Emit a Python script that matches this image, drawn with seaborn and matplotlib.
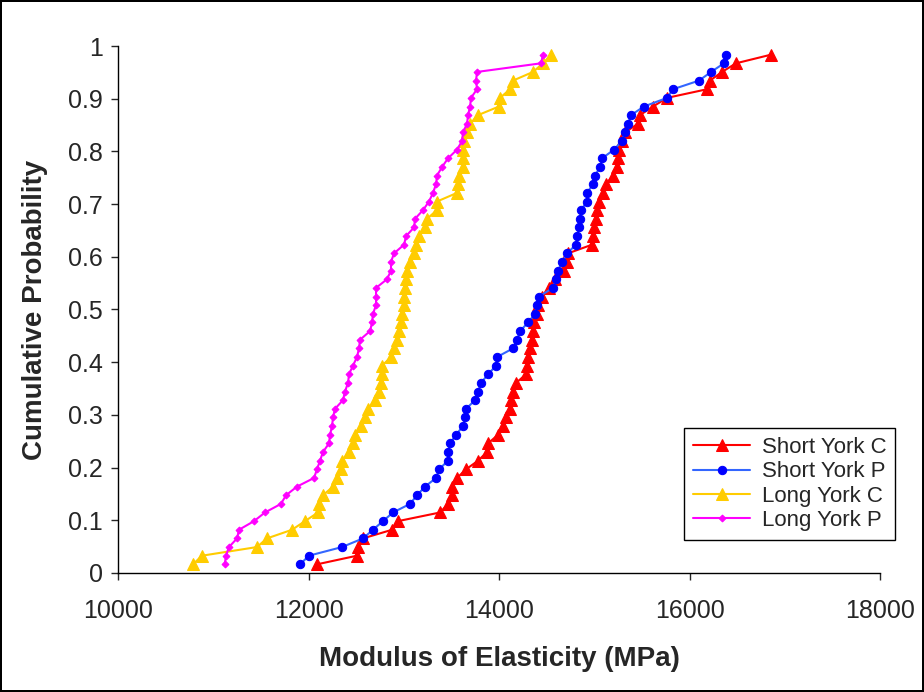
import matplotlib
matplotlib.use("Agg")
import matplotlib.pyplot as plt
import seaborn as sns
import pandas as pd

# cumulative probability (plotting positions)
cum_prob = [0.0164, 0.0328, 0.0492, 0.0656, 0.0820, 0.0984, 0.1148, 0.1311, 0.1475, 0.1639,
            0.1803, 0.1967, 0.2131, 0.2295, 0.2459, 0.2623, 0.2787, 0.2951, 0.3115, 0.3279,
            0.3443, 0.3607, 0.3770, 0.3934, 0.4098, 0.4262, 0.4426, 0.4590, 0.4754, 0.4918,
            0.5082, 0.5246, 0.5410, 0.5574, 0.5738, 0.5902, 0.6066, 0.6230, 0.6393, 0.6557,
            0.6721, 0.6885, 0.7049, 0.7213, 0.7377, 0.7541, 0.7705, 0.7869, 0.8033, 0.8197,
            0.8361, 0.8525, 0.8689, 0.8852, 0.9016, 0.9180, 0.9344, 0.9508, 0.9672, 0.9836]

short_york_c = [12089, 12509, 12520, 12572, 12877, 12940, 13381, 13465, 13507, 13507,
                13559, 13654, 13780, 13874, 13885, 13990, 14042, 14074, 14116, 14126,
                14147, 14179, 14284, 14294, 14305, 14326, 14347, 14357, 14368, 14399,
                14410, 14452, 14525, 14588, 14683, 14714, 14725, 14977, 14987, 14998,
                15019, 15029, 15050, 15092, 15124, 15197, 15239, 15250, 15260, 15291,
                15323, 15459, 15480, 15617, 15764, 16184, 16215, 16341, 16488, 16856]

short_york_p = [11911, 12005, 12352, 12572, 12677, 12782, 12887, 13066, 13139, 13223,
                13339, 13370, 13465, 13465, 13486, 13549, 13622, 13643, 13654, 13748,
                13780, 13811, 13885, 13969, 13979, 14147, 14189, 14221, 14305, 14378,
                14399, 14420, 14567, 14599, 14620, 14662, 14714, 14809, 14819, 14840,
                14851, 14861, 14924, 14924, 14987, 15008, 15061, 15082, 15207, 15291,
                15323, 15354, 15386, 15522, 15764, 15827, 16100, 16226, 16362, 16383]

long_york_c = [10787, 10882, 11459, 11564, 11827, 11963, 12100, 12110, 12152, 12257,
               12299, 12341, 12352, 12425, 12467, 12488, 12551, 12593, 12625, 12698,
               12740, 12761, 12772, 12772, 12866, 12898, 12929, 12950, 12971, 12982,
               13003, 13003, 13013, 13024, 13034, 13066, 13108, 13129, 13160, 13223,
               13244, 13349, 13349, 13559, 13570, 13580, 13622, 13622, 13622, 13633,
               13664, 13696, 13780, 14000, 14011, 14116, 14147, 14357, 14462, 14546]

long_york_p = [11120, 11134, 11165, 11250, 11270, 11428, 11543, 11711, 11764, 11879,
               12058, 12089, 12121, 12152, 12215, 12226, 12247, 12257, 12278, 12362,
               12383, 12415, 12425, 12467, 12509, 12530, 12541, 12646, 12667, 12677,
               12709, 12709, 12709, 12824, 12866, 12866, 12898, 13003, 13024, 13108,
               13118, 13202, 13265, 13307, 13339, 13349, 13402, 13465, 13559, 13612,
               13622, 13664, 13675, 13696, 13706, 13769, 13759, 13769, 14441, 14462]

series_names = ["Short York C", "Short York P", "Long York C", "Long York P"]
x_ticks = [10000, 12000, 14000, 16000, 18000]
y_ticks = [0, 0.1, 0.2, 0.3, 0.4, 0.5, 0.6, 0.7, 0.8, 0.9, 1]
y_tick_labels = ["0", "0.1", "0.2", "0.3", "0.4", "0.5", "0.6", "0.7", "0.8", "0.9", "1"]

sns.set_style("white")
plt.rcParams["font.family"] = ["Liberation Sans", "DejaVu Sans"]

fig = plt.figure(figsize=(9.24, 6.92), dpi=100)
fig.patch.set_edgecolor("black")
fig.patch.set_linewidth(1.5)
ax = fig.add_axes([0.1277, 0.172, 0.8247, 0.7615])

styles = [
    dict(color="#FF0000", marker="^", markersize=8, mfc="#FF0000", mec="#FF0000"),
    dict(color="#3366FF", marker="o", markersize=6, mfc="#0000FF", mec="#0000FF"),
    dict(color="#FFCC00", marker="^", markersize=8, mfc="#FFCC00", mec="#FFCC00"),
    dict(color="#FF00FF", marker="D", markersize=3.5, mfc="#FF00FF", mec="#FF00FF"),
]
all_x = [short_york_c, short_york_p, long_york_c, long_york_p]

for name, xs, st in zip(series_names, all_x, styles):
    df = pd.DataFrame({"moe": xs, "prob": cum_prob})
    sns.lineplot(data=df, x="moe", y="prob", ax=ax, sort=False, estimator=None,
                 label=name, linewidth=1.5, clip_on=False, **st)

ax.set_xlim(10000, 18000)
ax.set_ylim(0, 1)
ax.set_xticks(x_ticks)
ax.set_xticklabels([str(v) for v in x_ticks])
ax.set_yticks(y_ticks)
ax.set_yticklabels(y_tick_labels)
ax.tick_params(axis="x", direction="out", length=5, width=1, labelsize=18, pad=14)
ax.tick_params(axis="y", direction="out", length=5, width=1, labelsize=18, pad=6)
ax.tick_params(bottom=True, left=True)
sns.despine(ax=ax)
for s in ["left", "bottom"]:
    ax.spines[s].set_color("black")
    ax.spines[s].set_linewidth(1)

ax.set_xlabel("Modulus of Elasticity (MPa)", fontsize=20, fontweight="bold", labelpad=16)
ax.set_ylabel("Cumulative Probability", fontsize=20, fontweight="bold", labelpad=14)

leg = ax.legend(loc="lower right", bbox_to_anchor=(1.0197, 0.0626), borderaxespad=0,
                fontsize=16, frameon=True, fancybox=False, framealpha=1, borderpad=0.4,
                handlelength=2.6, handletextpad=0.5, labelspacing=0.15)
leg.get_frame().set_edgecolor("black")
leg.get_frame().set_linewidth(1)

fig.savefig("out.png", dpi=100)
